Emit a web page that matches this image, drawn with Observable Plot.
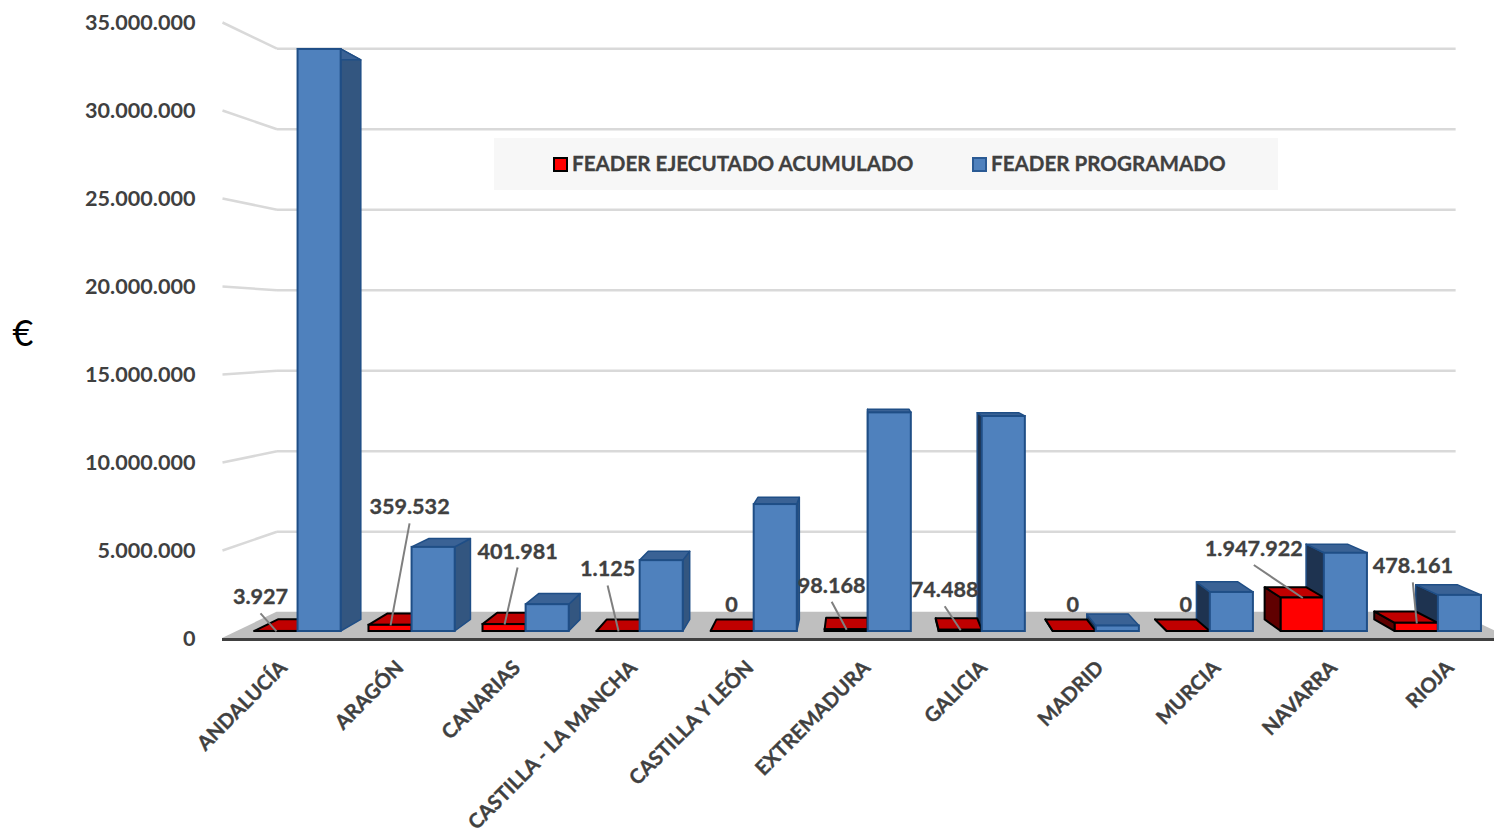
<!DOCTYPE html>
<html lang="es">
<head>
<meta charset="utf-8">
<script src="https://cdn.jsdelivr.net/npm/d3@7"></script>
<script src="https://cdn.jsdelivr.net/npm/@observablehq/plot@0.6"></script>
<style>
  html, body { margin: 0; padding: 0; background: #fff; overflow: hidden; }
  #wrap { position: relative; width: 1494px; height: 832px; font-family: Lato, sans-serif; }
  #legend { position: absolute; left: 494px; top: 138px; width: 784px; height: 52px; background: #f7f7f7;
            font-weight: 700; font-size: 20.6px; color: #404040; -webkit-text-stroke: 0.3px #404040; }
  #legend span { position: absolute; top: -1px; line-height: 52px; white-space: nowrap; }
  #legend i { position: absolute; top: 19px; width: 11px; height: 11px; border-style: solid; border-width: 2px; }
</style>
</head>
<body>
<div id="wrap">
  <div id="legend">
    <i style="left:59px;background:#ff0000;border-color:#000"></i><span style="left:78px">FEADER EJECUTADO ACUMULADO</span>
    <i style="left:478px;background:#4f81bd;border-color:#2a5a94"></i><span style="left:497px">FEADER PROGRAMADO</span>
  </div>
</div>
<script>
// ---- data ----
const categories = ["ANDALUCÍA","ARAGÓN","CANARIAS","CASTILLA - LA MANCHA","CASTILLA Y LEÓN","EXTREMADURA","GALICIA","MADRID","MURCIA","NAVARRA","RIOJA"];
const ejecutado = [3927,359532,401981,1125,0,98168,74488,0,0,1947922,478161];
const programado = [33840000,4890000,1560000,4120000,7380000,12710000,12500000,320000,2270000,4550000,2100000];
const yTicks = [0,5000000,10000000,15000000,20000000,25000000,30000000,35000000];
// label placement relative to the red bar's top, in pixels: [dx, dy]
const labelShift = [[-16,-34],[19,-118],[13,-73],[-11,-62],[-1,-26],[-15,-44],[-16,-40],[-2,-26],[-3,-26],[-49,-49],[-4,-57]];
const hasLeader = [true,true,true,true,false,true,true,false,false,true,true];

// ---- 3D projection, in data space ----
const XMAX = 11.04, YMAX = 35000000;
const vpU = 5.494, vpV = 17500000;          // vanishing point
const dFloor = 0.085, dFront = 0.0227, dBack = 0.0604; // depths
const pxU = 116.68, pxV = 616 / YMAX;       // px per data unit on the front plane
const pU = (u, d) => vpU + (u - vpU) * (1 - d);
const pV = (v, d) => vpV + (v - vpV) * (1 - d);
const redLeft = 0.157, blueLeft = 0.535, barW = 0.378;

function faces(values, left) {
  const front = [], top = [], side = [];
  values.forEach((v, i) => {
    const u0 = i + left, u1 = u0 + barW;
    front.push({x1: pU(u0, dFront), x2: pU(u1, dFront), y1: pV(0, dFront), y2: pV(v, dFront)});
    for (const d of [dFront, dBack]) top.push({id: i, x1: pU(u0, d), x2: pU(u1, d), y: pV(v, d)});
    const edge = u1 < vpU ? u1 : u0 > vpU ? u0 : null;
    if (edge !== null) for (const d of [dFront, dBack])
      side.push({id: i, right: u1 < vpU, x: pU(edge, d), y1: pV(0, d), y2: pV(v, d)});
  });
  return {front, top, side};
}
const red = faces(ejecutado, redLeft), blue = faces(programado, blueLeft);

const floor = [dFloor, 0].map(d => ({x1: pU(0, d), x2: pU(XMAX, d), y: pV(0, d)}));
const walls = yTicks.slice(1).map(v => ({x1: pU(0, 0), y1: v, x2: pU(0, dFloor), y2: pV(v, dFloor)}));
const backs = yTicks.slice(1).map(v => ({x1: pU(0, dFloor), x2: pU(XMAX, dFloor), y: pV(v, dFloor)}));

const fmt = d3.formatLocale({decimal: ",", thousands: ".", grouping: [3], currency: ["", "€"]}).format(",d");
const labels = ejecutado.map((v, i) => {
  const ax = pU(i + redLeft + barW / 2, dFront), ay = pV(v, dFront);
  const [dx, dy] = labelShift[i];
  return {text: fmt(v), ax, ay, dx, dy, lx: ax + dx / pxU, ly: ay - (dy + 16) / pxV, leader: hasLeader[i]};
});

const font = {fontFamily: "Lato, sans-serif", fontWeight: 700, fill: "#404040", stroke: "#404040", strokeWidth: 0.35};
const blueStroke = "#1f4e86";

const chart = Plot.plot({
  width: 1494, height: 832,
  marginLeft: 222, marginRight: 0, marginTop: 22, marginBottom: 194,
  style: {background: "transparent", fontFamily: "Lato, sans-serif"},
  x: {domain: [0, XMAX], range: [222, 222 + XMAX * pxU], axis: null},
  y: {domain: [0, YMAX], range: [638, 22], axis: null},
  marks: [
    // walls and floor
    Plot.link(walls, {x1: "x1", y1: "y1", x2: "x2", y2: "y2", stroke: "#d9d9d9", strokeWidth: 2.5}),
    Plot.link(backs, {x1: "x1", x2: "x2", y1: "y", y2: "y", stroke: "#d9d9d9", strokeWidth: 2.5}),
    Plot.area(floor, {x1: "x1", x2: "x2", y1: "y", fill: "#bfbfbf"}),
    Plot.ruleY([0], {stroke: "#404040", strokeWidth: 3, dy: 1}),
    Plot.axisY(yTicks, {anchor: "left", tickSize: 0, tickPadding: 27, tickFormat: fmt, label: null, fontSize: 21.6, dy: 1, ...font}),
    // blue faces behind the front
    Plot.area(blue.side, {x1: "x", y1: "y1", y2: "y2", z: "id", fill: d => d.right ? "#335680" : "#1e3350", stroke: blueStroke, strokeWidth: 1.5}),
    Plot.area(blue.top, {x1: "x1", x2: "x2", y1: "y", z: "id", fill: "#3a6295", stroke: blueStroke, strokeWidth: 1.5}),
    // red bars
    Plot.area(red.side, {x1: "x", y1: "y1", y2: "y2", z: "id", fill: "#600000", stroke: "#000", strokeWidth: 2}),
    Plot.area(red.top, {x1: "x1", x2: "x2", y1: "y", z: "id", fill: "#c00000", stroke: "#000", strokeWidth: 2}),
    Plot.rect(red.front, {x1: "x1", x2: "x2", y1: "y1", y2: "y2", fill: "#ff0000", stroke: "#000", strokeWidth: 2}),
    // blue fronts
    Plot.rect(blue.front, {x1: "x1", x2: "x2", y1: "y1", y2: "y2", fill: "#4f81bd", stroke: blueStroke, strokeWidth: 2}),
    // data labels
    Plot.link(labels.filter(d => d.leader), {x1: "lx", y1: "ly", x2: "ax", y2: "ay", stroke: "#7f7f7f", strokeWidth: 2}),
    ...labels.map(d => Plot.text([d], {x: "ax", y: "ay", text: "text", dx: d.dx, dy: d.dy, fontSize: 21.6, ...font})),
    // category labels
    Plot.text(categories, {x: (d, i) => i + 0.566, y: () => 0, text: d => d, rotate: -45, textAnchor: "end", dy: 26, dx: -5, fontSize: 20.2, ...font}),
    // unit
    Plot.text(["€"], {frameAnchor: "left", y: () => vpV, text: d => d, dx: -210, dy: 4, fontSize: 36, fontFamily: "Lato, sans-serif", fill: "#000"})
  ]
});
document.getElementById("wrap").prepend(chart);
</script>
</body>
</html>
